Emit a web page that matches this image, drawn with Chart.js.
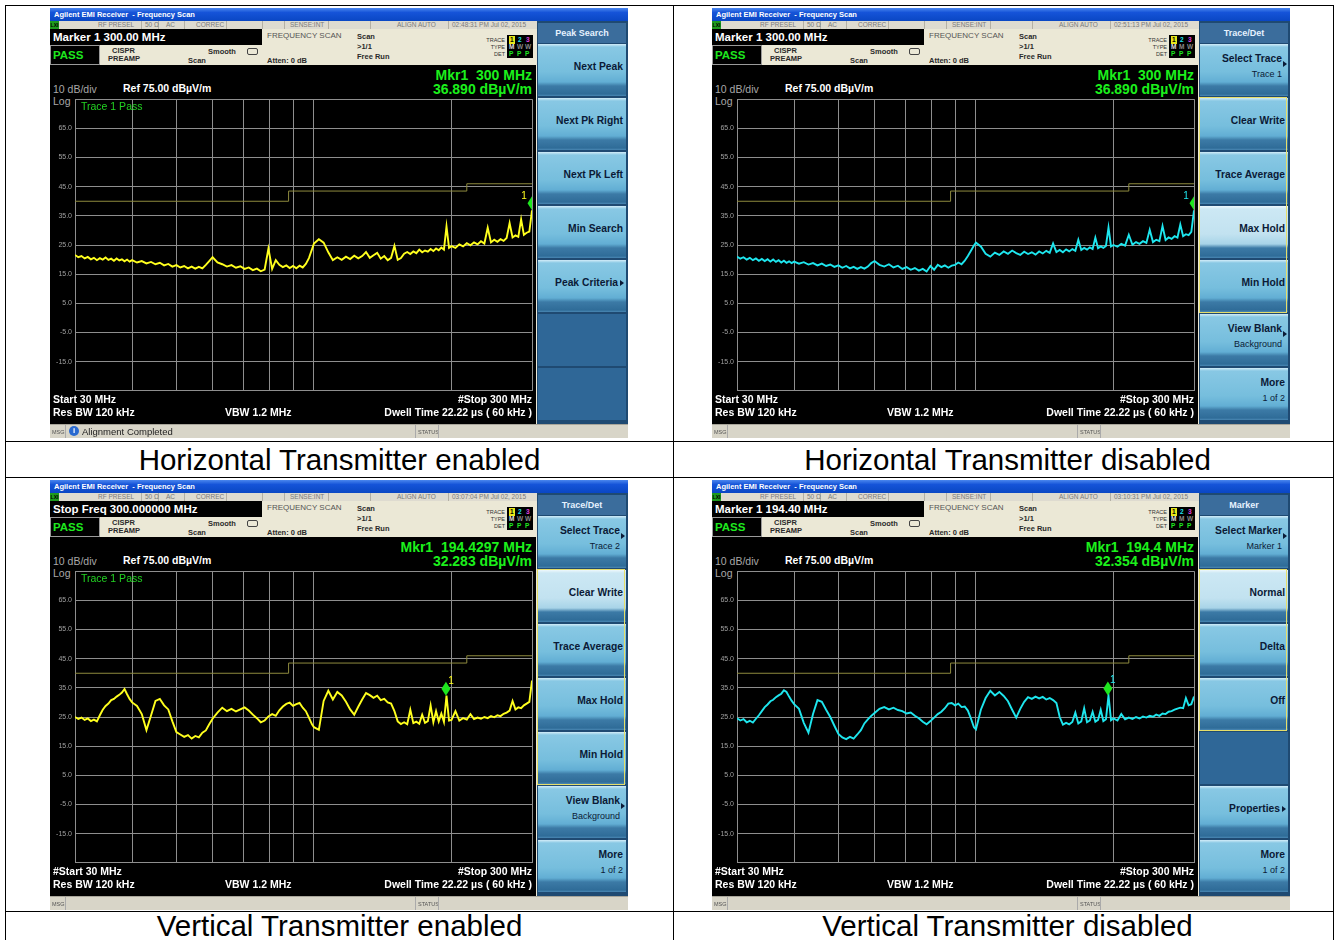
<!DOCTYPE html>
<html>
<head>
<meta charset="utf-8">
<script src="https://cdn.jsdelivr.net/npm/chart.js@4.4.1/dist/chart.umd.min.js"></script>
<style>
  body { margin: 0; width: 1336px; height: 940px; overflow: hidden; background: #fff; position: relative; font-family: "Liberation Sans", Arial, sans-serif; }
  .ln { position: absolute; background: #000; }
  .cap { position: absolute; font-size: 29.5px; text-align: center; color: #000; }
  .scr { position: absolute; width: 578px; height: 430px; background: #ebe8d6; overflow: hidden; }
  .scr div, .scr span, .scr canvas { position: absolute; white-space: nowrap; }
  .tbar { left: 0; top: 0; width: 578px; height: 13px; background: linear-gradient(#4a86ee, #1553d8 35%, #0a47c4); color: #fff; font-size: 7.5px; font-weight: bold; line-height: 13px; padding-left: 4px; box-sizing: border-box; }
  .srow { left: 0; top: 13px; width: 487px; height: 8px; background: #dedbd0; font-size: 6.5px; line-height: 8px; color: #7a7a7a; }
  .sep { top: 0; width: 1px; height: 8px; background: #b4b0a4; }
  .lxi { left: 0; top: 0; width: 9px; height: 8px; background: #1e9a1e; color: #000; font-size: 5px; font-weight: bold; text-align: center; }
  .abox { left: 0; top: 21px; width: 212px; height: 16px; background: #000; color: #fff; font-size: 11.5px; font-weight: bold; line-height: 16px; padding-left: 3px; box-sizing: border-box; }
  .pbox { left: 0; top: 37px; width: 50px; height: 20px; background: #000; border: 1px solid #9a9a9a; box-sizing: border-box; color: #1ee81e; font-size: 11.5px; font-weight: bold; line-height: 18px; padding-left: 2px; }
  .sm { font-size: 7.5px; font-weight: bold; color: #2a2a2a; line-height: 8px; }
  .gr { font-size: 8px; color: #555; line-height: 9px; }
  .tiny { font-size: 5.5px; color: #333; line-height: 6px; }
  .tbox { left: 457px; top: 27px; width: 26px; height: 23px; background: #000; font-size: 6.5px; font-weight: bold; line-height: 7.5px; }
  .disp { left: 0; top: 57px; width: 486px; height: 359px; background: #000; }
  .mk { right: 96px; font-size: 14px; font-weight: bold; color: #1cf01c; line-height: 14px; }
  .gt { font-size: 10.5px; color: #a8a8a8; line-height: 11px; }
  .wt { font-size: 10.5px; font-weight: bold; color: #fff; line-height: 11px; }
  .msg { left: 0; top: 416px; width: 578px; height: 14px; background: #d8d5c8; border-top: 1px solid #a8a59a; box-sizing: border-box; }
  .sk { left: 487px; top: 13px; width: 91px; height: 403px; background: #1f4a72; }
  .skh { left: 1px; top: 2px; width: 88px; height: 20px; background: #3b6d9c; color: #e6f2ff; font-size: 9px; font-weight: bold; line-height: 20px; text-align: center; }
  .key { left: 1px; width: 88px; height: 52px; background: linear-gradient(#d2ecf8 0px, #88c8e4 3px, #76bedd 28px, #62aed4 38px, #3c7aa6 42px, #2f6c98 50px, #4a88b4 52px); }
  .key.sel { background: linear-gradient(#eef8fc 0px, #cce8f4 3px, #c2e2f0 28px, #a8d4e8 38px, #3c7aa6 42px, #2f6c98 50px, #4a88b4 52px); }
  .key.empty { background: #2f6797; }
  .kt { right: 3px; font-size: 10.3px; font-weight: bold; color: #0b1a36; line-height: 12px; }
  .ks { right: 3px; font-size: 9px; color: #0b1a36; line-height: 11px; }
  .tri { width: 0; height: 0; border-left: 4px solid #0b1a36; border-top: 3px solid transparent; border-bottom: 3px solid transparent; }
  .grp { left: 0px; width: 86px; border: 1.5px solid #e6de6a; }
</style>
</head>
<body>
<script>
// sweep points (MHz) shared by all four scans
const freqMHz = [
  30, 30.5, 31, 31.5, 32, 32.5, 33, 33.5, 34, 34.5, 35, 35.5, 36, 36.5, 37, 37.5, 38, 38.5, 39, 39.5,
  40, 41, 42, 43, 44, 45, 46, 47, 48, 49, 50, 51, 52, 53, 54, 55, 56, 57, 58, 59,
  60, 61.5, 63, 64.5, 66, 67.5, 69, 70.5, 72, 73.5, 75, 76.5, 78, 79.5, 81, 82.5, 84, 85.5, 87, 88.5, 90, 91.5, 93, 94.5, 96, 97.5, 99,
  100, 102.5, 105, 107.5, 110, 112.5, 115, 117.5, 120, 122.5, 125, 127.5, 130, 132.5, 135, 137.5, 140, 142.5, 145, 147.5,
  150, 152.5, 155, 157.5, 160, 162.5, 165, 167.5, 170, 172.5, 175, 177.5, 180, 182.5, 185, 187.5, 190, 192.5, 195, 197.5,
  200, 204, 208, 212, 216, 220, 224, 228, 232, 236, 240, 244, 248, 252, 256, 260, 264, 268, 272, 276, 280, 284, 288, 292, 296, 300
];

// dBuV/m readings
const hEnabled = [
  21.6, 20.8, 21.2, 20.4, 20.9, 20.1, 20.6, 19.8, 20.5, 20.0, 20.7, 19.9, 20.3, 19.6, 20.4, 19.7, 20.1, 19.4, 20.0, 19.3,
  19.8, 19.0, 19.5, 18.7, 19.2, 18.4, 18.9, 18.0, 18.5, 17.6, 18.1, 17.3, 17.8, 17.0, 17.6, 16.9, 17.5, 17.0, 18.2, 19.5,
  20.8, 19.0, 18.4, 17.6, 18.1, 17.2, 17.7, 16.8, 17.3, 16.4, 16.9, 16.0, 16.6, 23.8, 16.8, 19.8, 18.2, 17.4, 18.0, 17.1, 17.8, 17.0, 17.9, 17.3, 18.5, 20.5, 23.5,
  25.5, 27.0, 25.8, 22.5, 19.8, 20.8, 19.9, 21.0, 20.2, 21.3, 20.4, 21.2, 22.6, 20.6, 21.5, 22.3, 20.3, 21.2, 19.8, 20.6,
  24.7, 19.9, 20.5, 22.0, 22.6, 21.9, 22.8, 22.2, 23.4, 22.5, 23.1, 22.7, 23.6, 22.9, 23.8, 23.2, 24.1, 23.4, 31.4, 24.0,
  24.6, 24.0, 25.2, 24.5, 25.6, 24.9, 25.9, 25.2, 26.3, 25.5, 30.9, 25.9, 26.8, 26.1, 27.0, 26.4, 27.4, 32.5, 27.6, 28.3, 27.8, 33.8, 28.5, 29.2, 29.6, 36.9
];
const hDisabled = [
  21.0, 20.3, 20.8, 20.0, 20.6, 19.8, 20.4, 19.6, 20.2, 19.5, 20.1, 19.3, 20.0, 19.2, 19.8, 19.0, 19.6, 18.9, 19.4, 18.8,
  19.3, 18.6, 19.1, 18.3, 18.8, 18.0, 18.6, 17.8, 18.3, 17.5, 18.0, 17.2, 17.8, 17.0, 17.5, 16.8, 17.4, 16.9, 17.6, 18.8,
  19.5, 18.2, 17.6, 18.4, 17.3, 17.9, 16.8, 17.4, 16.5, 17.1, 16.2, 16.8, 15.9, 17.8, 16.5, 18.2, 17.4, 18.0, 17.2, 17.9, 18.2, 19.0, 18.4, 19.6, 21.2, 23.0, 24.8,
  25.8, 24.5, 22.0, 21.0, 22.4, 21.6, 22.8, 22.0, 23.1, 22.2, 21.6, 22.7, 21.9, 22.5, 21.7, 22.8, 22.1, 23.0, 22.3, 25.5,
  22.6, 23.3, 22.5, 23.5, 22.8, 23.6, 23.0, 26.8, 23.3, 24.0, 23.4, 24.2, 23.6, 27.5, 23.9, 24.5, 24.0, 24.7, 31.0, 24.5,
  25.0, 24.4, 25.4, 24.8, 28.5, 25.1, 26.0, 25.4, 26.3, 25.7, 30.2, 26.0, 26.8, 26.3, 31.5, 26.7, 27.6, 27.1, 28.0, 27.5, 32.0, 28.0, 28.7, 28.4, 29.5, 36.9
];
const vEnabled = [
  25.0, 24.3, 24.8, 24.0, 24.5, 23.6, 24.1, 23.5, 25.6, 27.5, 28.8, 29.6, 30.8, 31.2, 32.0, 32.6, 33.4, 34.6, 32.8, 31.2,
  30.0, 28.8, 26.0, 20.5, 25.5, 30.5, 31.2, 29.0, 27.6, 23.5, 19.8, 19.0, 18.2, 18.8, 17.6, 18.5, 18.0, 19.6, 20.4, 22.5,
  24.4, 26.5, 28.2, 27.0, 27.8, 26.9, 27.6, 28.3, 27.2, 25.8, 24.6, 23.2, 23.8, 25.2, 26.0, 25.4, 27.3, 28.6, 29.5, 29.9, 28.8, 29.4, 29.8, 28.2, 27.0, 24.8, 22.5,
  21.5, 20.6, 30.5, 34.0, 31.0, 33.6, 32.4, 30.2, 27.6, 25.8, 28.5, 31.0, 33.2, 32.5, 31.6, 32.3, 30.8, 31.2, 30.0, 29.6,
  27.0, 23.5, 22.6, 23.2, 22.5, 27.5, 22.9, 23.4, 22.7, 25.8, 23.0, 23.6, 29.0, 23.2, 27.0, 23.5, 26.2, 23.3, 32.3, 23.8,
  24.0, 27.0, 23.8, 24.6, 24.1, 26.0, 24.3, 24.8, 24.4, 25.0, 24.6, 25.3, 24.9, 25.6, 25.3, 26.1, 26.5, 27.2, 30.5, 27.6, 28.3, 28.0, 29.0, 29.6, 30.2, 37.5
];
const vDisabled = [
  24.6, 23.8, 24.3, 23.2, 23.7, 23.1, 24.4, 25.6, 27.0, 28.4, 29.3, 30.4, 30.9, 31.8, 32.4, 33.0, 34.2, 33.6, 32.0, 30.6,
  29.4, 27.8, 23.0, 19.6, 26.0, 30.8, 30.2, 27.5, 25.0, 22.0, 19.2, 18.0, 17.4, 18.2, 17.6, 19.0, 20.5, 22.8, 24.2, 25.4,
  26.4, 27.8, 28.4, 27.6, 28.2, 27.4, 27.0, 26.2, 26.5, 25.4, 24.6, 23.4, 22.5, 23.6, 24.8, 26.0, 26.8, 28.0, 29.6, 29.8, 29.0, 29.6, 28.4, 28.6, 27.2, 24.5, 21.5,
  20.8, 27.5, 31.5, 34.0, 32.4, 33.6, 32.2, 30.4, 27.5, 24.8, 27.8, 30.2, 31.8, 31.2, 32.0, 31.4, 31.9, 31.0, 31.5, 30.8,
  29.8, 25.0, 22.4, 23.0, 22.5, 23.3, 26.5, 22.8, 23.5, 28.0, 23.2, 23.8, 26.8, 23.4, 24.0, 27.5, 23.6, 24.2, 32.4, 23.9,
  24.5, 23.8, 26.0, 24.2, 24.8, 24.3, 25.0, 24.5, 25.2, 24.8, 25.4, 25.1, 25.8, 25.4, 26.2, 26.0, 26.8, 27.0, 27.5, 27.9, 28.2, 28.0, 31.5, 29.0, 29.4, 32.0
];

// limit line (steps)
const limitFreq = [30, 88, 216, 300];
const limitLevel = [40, 43.5, 46, 46];

// graticule
const gridFreq = [30, 40, 50, 60, 70, 80, 90, 100, 200, 300];
const yTicks = [-25, -15, -5, 5, 15, 25, 35, 45, 55, 65, 75];

// marker 1 per scan
const markerFreq = [300, 300, 194.4297, 194.40];
const markerLevel = [36.89, 36.89, 32.283, 32.354];

const captions = ['Horizontal Transmitter enabled', 'Horizontal Transmitter disabled', 'Vertical Transmitter enabled', 'Vertical Transmitter disabled'];

const traceKeys = (n, sel) => [
  { t: 'Select Trace', s: 'Trace ' + n, arrow: true },
  { t: 'Clear Write', sel: sel === 1 }, { t: 'Trace Average' }, { t: 'Max Hold', sel: sel === 3 }, { t: 'Min Hold' },
  { t: 'View Blank', s: 'Background', arrow: true }, { t: 'More', s: '1 of 2' }
];

const panels = [
  { left: 50, top: 8, trace: hEnabled, color: '#ffff1e', active: 'Marker 1 300.00 MHz', time: '02:48:31 PM Jul 02, 2015',
    mkr: ['Mkr1&nbsp; 300 MHz', '36.890 dBµV/m'], lbl: [-8, -14], pass: true, start: 'Start 30 MHz', msg: true, type: ['M', 'W', 'W'],
    header: 'Peak Search', group: null,
    keys: [{ t: 'Next Peak' }, { t: 'Next Pk Right' }, { t: 'Next Pk Left' }, { t: 'Min Search' }, { t: 'Peak Criteria', inl: true }, null, null] },
  { left: 712, top: 8, trace: hDisabled, color: '#1ee6ee', active: 'Marker 1 300.00 MHz', time: '02:51:13 PM Jul 02, 2015',
    mkr: ['Mkr1&nbsp; 300 MHz', '36.890 dBµV/m'], lbl: [-8, -14], pass: false, start: 'Start 30 MHz', msg: false, type: ['M', 'M', 'W'],
    header: 'Trace/Det', group: [1, 4], keys: traceKeys(1, 3) },
  { left: 50, top: 480, trace: vEnabled, color: '#ffff1e', active: 'Stop Freq 300.000000 MHz', time: '03:07:04 PM Jul 02, 2015',
    mkr: ['Mkr1&nbsp; 194.4297 MHz', '32.283 dBµV/m'], lbl: [5, -15], pass: true, start: '#Start 30 MHz', msg: false, type: ['M', 'W', 'W'],
    header: 'Trace/Det', group: [1, 4], keys: traceKeys(2, 1) },
  { left: 712, top: 480, trace: vDisabled, color: '#1ee6ee', active: 'Marker 1 194.40 MHz', time: '03:10:31 PM Jul 02, 2015',
    mkr: ['Mkr1&nbsp; 194.4 MHz', '32.354 dBµV/m'], lbl: [5, -15], pass: false, start: '#Start 30 MHz', msg: false, type: ['M', 'M', 'W'],
    header: 'Marker', group: [1, 3],
    keys: [{ t: 'Select Marker', s: 'Marker 1', arrow: true }, { t: 'Normal', sel: true }, { t: 'Delta' }, { t: 'Off' }, null,
      { t: 'Properties', inl: true }, { t: 'More', s: '1 of 2' }] }
];

// table frame
const lines = [
  [5, 5, 1329, 1], [5, 441, 1329, 1], [5, 477, 1329, 1], [5, 911, 1329, 1],
  [5, 5, 1, 935], [673, 5, 1, 935], [1333, 5, 1, 935]
];
lines.forEach(([x, y, w, h]) => {
  const d = document.createElement('div');
  d.className = 'ln';
  d.style.cssText = `left:${x}px;top:${y}px;width:${w}px;height:${h}px`;
  document.body.appendChild(d);
});
const capBoxes = [[6, 442], [674, 442], [6, 908], [674, 908]];
capBoxes.forEach(([x, y], i) => {
  const d = document.createElement('div');
  d.className = 'cap';
  d.style.cssText = `left:${x}px;top:${y}px;width:667px;height:35px;line-height:35px`;
  d.textContent = captions[i];
  document.body.appendChild(d);
});

function keyHtml(k, n) {
  const top = 23 + n * 54;
  if (!k) return `<div class="key empty" style="top:${top}px"></div>`;
  let inner;
  if (k.s) {
    inner = `<span class="kt" style="top:9px;right:${k.arrow ? 6 : 3}px">${k.t}</span><span class="ks" style="top:25px;right:${k.arrow ? 6 : 3}px">${k.s}</span>`;
    if (k.arrow) inner += `<div class="tri" style="right:1px;top:17px"></div>`;
  } else if (k.inl) {
    inner = `<span class="kt" style="top:17px;right:8px">${k.t}</span><div class="tri" style="right:2px;top:20px"></div>`;
  } else {
    inner = `<span class="kt" style="top:17px">${k.t}</span>`;
  }
  return `<div class="key${k.sel ? ' sel' : ''}" style="top:${top}px">${inner}</div>`;
}

function panelHtml(p) {
  const stat = [[48, 'RF PRESEL'], [95, '50 Ω'], [116, 'AC'], [146, 'CORREC'], [240, 'SENSE:INT'], [347, 'ALIGN AUTO'], [402, p.time]]
    .map(([x, t]) => `<span style="left:${x}px;top:0">${t}</span>`).join('');
  const seps = [91, 108, 134, 176, 212, 234, 278, 320, 398].map(x => `<div class="sep" style="left:${x}px"></div>`).join('');
  const grp = p.group ? `<div class="grp" style="top:${23 + p.group[0] * 54 - 1}px;height:${(p.group[1] - p.group[0] + 1) * 54 - 2}px"></div>` : '';
  return `
    <div class="tbar">Agilent EMI Receiver&nbsp; - Frequency Scan</div>
    <div class="srow"><div class="lxi">LXI</div>${seps}${stat}</div>
    <div class="abox">${p.active}</div>
    <div class="pbox">PASS</div>
    <span class="gr" style="left:217px;top:23px">FREQUENCY SCAN</span>
    <span class="sm" style="left:62px;top:39px">CISPR</span>
    <span class="sm" style="left:58px;top:47px">PREAMP</span>
    <span class="sm" style="left:158px;top:40px">Smooth</span>
    <span class="sm" style="left:138px;top:49px">Scan</span>
    <div style="left:197px;top:40px;width:9px;height:5px;border:1px solid #444;border-radius:2px"></div>
    <span class="sm" style="left:217px;top:49px">Atten: 0 dB</span>
    <span class="sm" style="left:307px;top:25px">Scan</span>
    <span class="sm" style="left:307px;top:35px">&gt;1/1</span>
    <span class="sm" style="left:307px;top:45px">Free Run</span>
    <span class="tiny" style="right:123px;top:29px">TRACE</span>
    <span class="tiny" style="right:123px;top:36px">TYPE</span>
    <span class="tiny" style="right:123px;top:43px">DET</span>
    <div class="tbox">
      <span style="left:2px;top:1px;color:#000;background:#e8e81a;padding:0 1px">1</span><span style="left:11px;top:1px;color:#1ee6ee">2</span><span style="left:19px;top:1px;color:#e040e0">3</span>
      <span style="left:2px;top:8px;color:#ddd">${p.type[0]}</span><span style="left:10px;top:8px;color:#888">${p.type[1]}</span><span style="left:18px;top:8px;color:#888">${p.type[2]}</span>
      <span style="left:2px;top:15px;color:#1ee81e">P</span><span style="left:10px;top:15px;color:#1ee81e">P</span><span style="left:18px;top:15px;color:#1ee81e">P</span>
    </div>
    <div class="disp"></div>
    <span class="mk" style="top:60px">${p.mkr[0]}</span>
    <span class="mk" style="top:74px">${p.mkr[1]}</span>
    <span class="gt" style="left:3px;top:76px">10 dB/div</span>
    <span class="wt" style="left:73px;top:75px">Ref 75.00 dBµV/m</span>
    <span class="gt" style="left:3px;top:88px">Log</span>
    <canvas width="483" height="306" style="left:0;top:84px"></canvas>
    ${p.pass ? '<span style="left:31px;top:93px;font-size:10.5px;line-height:11px;color:#22d422">Trace 1 Pass</span>' : ''}
    <span class="wt" style="left:3px;top:386px">${p.start}</span>
    <span class="wt" style="right:96px;top:386px">#Stop 300 MHz</span>
    <span class="wt" style="left:3px;top:399px">Res BW 120 kHz</span>
    <span class="wt" style="left:175px;top:399px">VBW 1.2 MHz</span>
    <span class="wt" style="right:96px;top:399px">Dwell Time 22.22 µs ( 60 kHz )</span>
    <div class="msg">
      <span class="tiny" style="left:2px;top:4px;color:#555">MSG</span>
      <div style="left:15px;top:0;width:1px;height:13px;background:#aaa"></div>
      ${p.msg ? '<div style="left:19px;top:1px;width:10px;height:10px;border-radius:5px;background:#2a6ad0;color:#fff;font-size:8px;font-weight:bold;line-height:10px;text-align:center">i</div><span style="left:32px;top:1px;font-size:9.5px;line-height:11px;color:#222">Alignment Completed</span>' : ''}
      <div style="left:365px;top:0;width:1px;height:13px;background:#aaa"></div>
      <span class="tiny" style="left:368px;top:4px;color:#555">STATUS</span>
      <div style="left:388px;top:0;width:1px;height:13px;background:#aaa"></div>
    </div>
    <div class="sk">
      <div class="skh">${p.header}</div>
      ${p.keys.map(keyHtml).join('')}
      ${grp}
    </div>`;
}

const markerPlugin = {
  id: 'mkr',
  afterDatasetsDraw(chart, args, opts) {
    const { ctx, chartArea, scales } = chart;
    const x = scales.x.getPixelForValue(opts.freq);
    const y = scales.y.getPixelForValue(opts.level);
    ctx.save();
    ctx.beginPath();
    ctx.rect(chartArea.left, chartArea.top, chartArea.right - chartArea.left, chartArea.bottom - chartArea.top);
    ctx.clip();
    ctx.fillStyle = '#1ee61e';
    ctx.beginPath();
    ctx.moveTo(x, y);
    ctx.lineTo(x + 4.5, y - 7);
    ctx.lineTo(x, y - 14);
    ctx.lineTo(x - 4.5, y - 7);
    ctx.closePath();
    ctx.fill();
    ctx.restore();
    ctx.fillStyle = opts.color;
    ctx.font = '10px "Liberation Sans", Arial, sans-serif';
    ctx.textAlign = 'center';
    ctx.textBaseline = 'middle';
    ctx.fillText('1', x + opts.dx, y + opts.dy);
  }
};

Chart.defaults.font.family = '"Liberation Sans", Arial, sans-serif';

panels.forEach((p, i) => {
  const scr = document.createElement('div');
  scr.className = 'scr';
  scr.style.left = p.left + 'px';
  scr.style.top = p.top + 'px';
  scr.innerHTML = panelHtml(p);
  document.body.appendChild(scr);

  const gridColor = '#8e8e8e';
  new Chart(scr.querySelector('canvas'), {
    type: 'line',
    data: {
      datasets: [
        // horizontal first, then the vertical step at the next corner frequency
        { data: limitFreq.map((f, k) => ({ x: f, y: limitLevel[k] })), borderColor: '#8e8a3e', borderWidth: 1, stepped: true, pointRadius: 0 },
        { data: freqMHz.map((f, k) => ({ x: f, y: p.trace[k] })), borderColor: p.color, borderWidth: 1.9, pointRadius: 0 }
      ]
    },
    options: {
      responsive: false,
      animation: false,
      events: [],
      layout: { padding: { top: 6, bottom: 6, left: 0, right: 1 } },
      plugins: {
        legend: { display: false },
        tooltip: { enabled: false },
        mkr: { freq: markerFreq[i], level: markerLevel[i], color: p.color, dx: p.lbl[0], dy: p.lbl[1] }
      },
      scales: {
        x: {
          type: 'logarithmic', min: 30, max: 300,
          afterBuildTicks: s => { s.ticks = gridFreq.map(v => ({ value: v })); },
          afterFit: s => { s.height = 0; },
          ticks: { display: false },
          grid: { color: gridColor, drawTicks: false },
          border: { color: gridColor }
        },
        y: {
          min: -25, max: 75,
          afterBuildTicks: s => { s.ticks = yTicks.map(v => ({ value: v })); },
          afterFit: s => { s.width = 25; },
          ticks: { callback: v => (v === 75 || v === -25) ? '' : v.toFixed(1), color: '#a0a0a0', font: { size: 7 }, padding: 3 },
          grid: { color: gridColor, drawTicks: false },
          border: { color: gridColor }
        }
      }
    },
    plugins: [markerPlugin]
  });
});
</script>
</body>
</html>
